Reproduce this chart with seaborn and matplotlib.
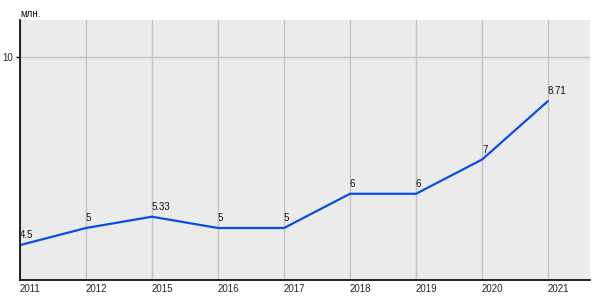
import matplotlib
matplotlib.use("Agg")
import matplotlib.pyplot as plt
import seaborn as sns
import pandas as pd

years = ["2011", "2012", "2015", "2016", "2017", "2018", "2019", "2020", "2021"]
values = [4.5, 5, 5.33, 5, 5, 6, 6, 7, 8.71]
labels = ["4.5", "5", "5.33", "5", "5", "6", "6", "7", "8.71"]
unit = "млн."

sns.set_theme(style="white")
plt.rcParams['font.family'] = ['Liberation Sans', 'DejaVu Sans']

fig = plt.figure(figsize=(6, 3), dpi=100)
ax = fig.add_axes([20/600, 20/300, 570/600, 260/300])
ax.set_facecolor("#ebebeb")

df = pd.DataFrame({"year": years, "value": values})
sns.lineplot(data=df, x="year", y="value", sort=False, color="#0a4de6", linewidth=1.6, ax=ax)

for i, (v, t) in enumerate(zip(values, labels)):
    ax.annotate(t, (i, v), xytext=(0, 3.5), textcoords="offset points",
                ha="left", va="bottom", fontsize=7, color="#111111")

ax.set_xlim(0, 570/66)
ax.set_ylim(3.48, 11.08)
ax.set_yticks([10])
ax.set_yticklabels(["10"], fontsize=7)
ax.set_xticks(range(len(years)))
ax.set_xticklabels(years, fontsize=7, ha="left")
ax.tick_params(axis="x", length=0, pad=3)
ax.tick_params(axis="y", length=3, width=1, color="black", left=True, pad=2)
ax.grid(True, color="#c4c4c4", linewidth=1)
ax.set_axisbelow(True)
ax.set_xlabel("")
ax.set_ylabel("")
for s in ["top", "right"]:
    ax.spines[s].set_visible(False)
for s in ["left", "bottom"]:
    ax.spines[s].set_visible(True)
    ax.spines[s].set_color("black")
    ax.spines[s].set_linewidth(1.2)

fig.text(20/600, 1 - 14/300, unit, fontsize=7, ha="left", va="center", color="#111111")

fig.savefig("out.png", dpi=100)
